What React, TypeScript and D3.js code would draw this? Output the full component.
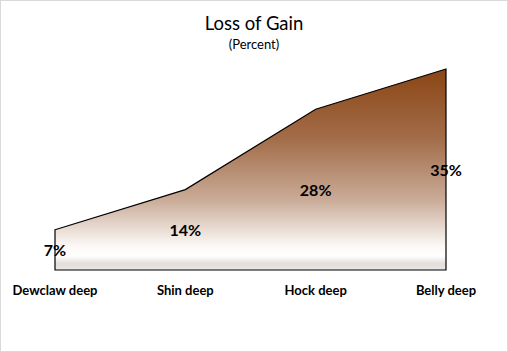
import React from 'react';
import * as d3 from 'd3';

const categories = ['Dewclaw deep', 'Shin deep', 'Hock deep', 'Belly deep'];
const values = [7, 14, 28, 35];
const valueLabels = ['7%', '14%', '28%', '35%'];
const title = 'Loss of Gain';
const subtitle = '(Percent)';

const W = 508, H = 352;
const font = 'Lato, "Open Sans", sans-serif';

export default function App() {
  const x = d3.scalePoint<string>().domain(categories).range([55, 446]);
  const y = d3.scaleLinear().domain([0, 35]).range([270, 69]);

  const pts = categories.map((c, i) => ({ c, v: values[i] }));
  const area = d3.area<{ c: string; v: number }>()
    .x(d => x(d.c) as number)
    .y0(y(0))
    .y1(d => y(d.v));

  return (
    <svg width={W} height={H} style={{ position: 'absolute', left: 0, top: 0 }}>
      <defs>
        <linearGradient id="fillGrad" gradientUnits="userSpaceOnUse" x1="0" x2="0" y1={y(35)} y2={y(0)}>
          <stop offset="0" stopColor="#8a4514" />
          <stop offset="0.35" stopColor="#a36d4a" />
          <stop offset="0.65" stopColor="#c9ab97" />
          <stop offset="0.88" stopColor="#fbf8f6" />
          <stop offset="0.93" stopColor="#ffffff" />
          <stop offset="0.97" stopColor="#e2ddd9" />
          <stop offset="1" stopColor="#ebe8e5" />
        </linearGradient>
      </defs>
      <rect x={0.5} y={0.5} width={W - 1} height={H - 1} fill="#fff" stroke="#d9d9d9" />
      <text x={W / 2} y={30} textAnchor="middle" fontFamily={font} fontSize={18.5} fill="#000">{title}</text>
      <text x={W / 2} y={49} textAnchor="middle" fontFamily={font} fontSize={13} fill="#000">{subtitle}</text>
      <path d={area(pts) + 'Z'} fill="url(#fillGrad)" stroke="#000" strokeWidth={1.2} strokeLinejoin="miter" />
      {pts.map((d, i) => (
        <text key={'v' + i} x={x(d.c)} y={(y(0) + y(d.v)) / 2 + 6} textAnchor="middle"
          fontFamily={font} fontSize={16} fontWeight="bold" fill="#000">{valueLabels[i]}</text>
      ))}
      {pts.map((d, i) => (
        <text key={'c' + i} x={x(d.c)} y={295} textAnchor="middle"
          fontFamily={font} fontSize={13} fontWeight="bold" fill="#000">{d.c}</text>
      ))}
    </svg>
  );
}
